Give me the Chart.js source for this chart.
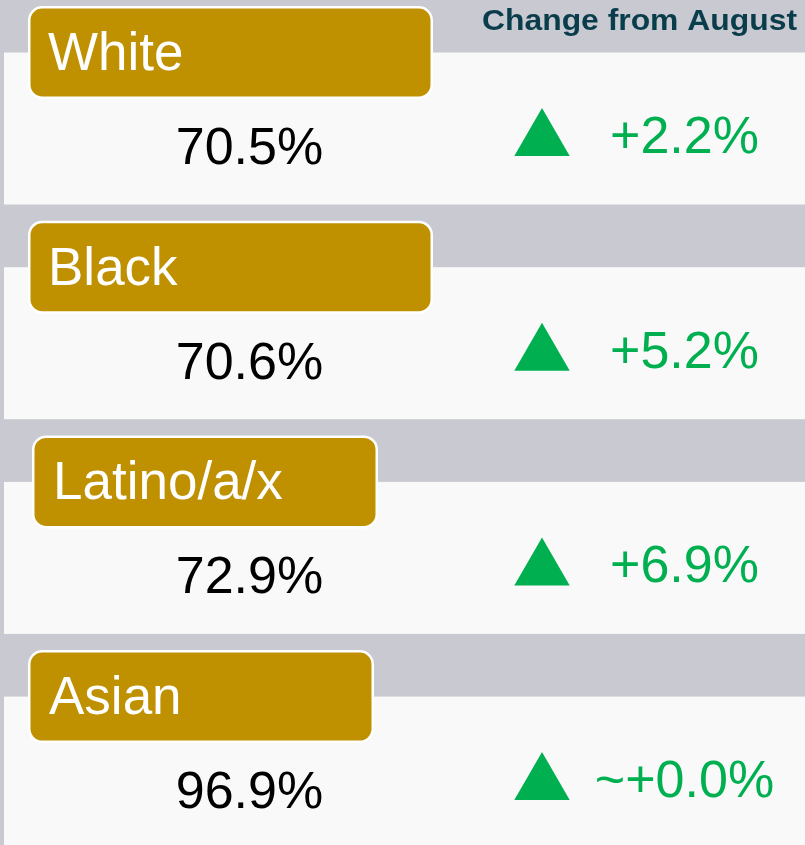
<!DOCTYPE html>
<html>
<head>
<meta charset="utf-8">
<script src="https://cdn.jsdelivr.net/npm/chart.js@4/dist/chart.umd.min.js"></script>
<style>
  html, body { margin: 0; padding: 0; background: #C9C9D1; }
  #wrap { width: 805px; height: 845px; }
</style>
</head>
<body>
<div id="wrap"><canvas id="c" width="805" height="845"></canvas></div>
<script>
// ---- data ----
const categories = ['White', 'Black', 'Latino/a/x', 'Asian'];
const rates = [70.5, 70.6, 72.9, 96.9];
const changes = [2.2, 5.2, 6.9, 0.0];
const changeLabels = ['+2.2%', '+5.2%', '+6.9%', '~+0.0%'];
const headerTitle = 'Change from August';

// ---- layout / style ----
const W = 805, H = 845;
const ROW0 = 6, ROW_STEP = 214.7;
const boxX = [[28, 433], [28, 433], [32, 378], [28, 374]];
const labelX = [48, 48, 53, 49];
const COLORS = {
  bg: '#C9C9D1', panel: '#F9F9F9', gold: '#BF9000', green: '#00B050',
  header: '#0A3D4B', value: '#000000', label: '#FFFFFF'
};
const FONT = '"Liberation Sans", Arial, Helvetica, sans-serif';
const rowTop = i => ROW0 + i * ROW_STEP;

function roundRect(ctx, x, y, w, h, r) {
  ctx.beginPath();
  ctx.moveTo(x + r, y);
  ctx.lineTo(x + w - r, y);
  ctx.arcTo(x + w, y, x + w, y + r, r);
  ctx.lineTo(x + w, y + h - r);
  ctx.arcTo(x + w, y + h, x + w - r, y + h, r);
  ctx.lineTo(x + r, y + h);
  ctx.arcTo(x, y + h, x, y + h - r, r);
  ctx.lineTo(x, y + r);
  ctx.arcTo(x, y, x + r, y, r);
  ctx.closePath();
}

const cardPlugin = {
  id: 'cards',
  beforeDatasetsDraw(chart) {
    const ctx = chart.ctx;
    const xs = chart.scales.x, ys = chart.scales.y;
    const px = v => xs.getPixelForValue(v);
    const py = v => ys.getPixelForValue(v);
    ctx.save();
    // background
    ctx.fillStyle = COLORS.bg;
    ctx.fillRect(0, 0, W, H);
    categories.forEach((cat, i) => {
      const t = rowTop(i);
      // white panel
      ctx.fillStyle = COLORS.panel;
      const pTop = py(t + 46.5);
      const pBot = i === categories.length - 1 ? H + 5 : py(t + 198.5);
      ctx.fillRect(px(4), pTop, px(805) - px(4), pBot - pTop);
      // gold label box
      const [bx0, bx1] = boxX[i];
      const x0 = px(bx0) + 1.25, x1 = px(bx1) - 1.25;
      const y0 = py(t) + 1.25, y1 = py(t + 93) - 1.25;
      roundRect(ctx, x0, y0, x1 - x0, y1 - y0, 13);
      ctx.fillStyle = COLORS.gold;
      ctx.fill();
      ctx.lineWidth = 2.5;
      ctx.strokeStyle = '#FFFFFF';
      ctx.stroke();
      // label text
      ctx.fillStyle = COLORS.label;
      ctx.font = '53px ' + FONT;
      ctx.textAlign = 'left';
      ctx.textBaseline = 'alphabetic';
      ctx.fillText(cat, px(labelX[i]), py(t + 64));
      // value text
      ctx.fillStyle = COLORS.value;
      ctx.font = '52px ' + FONT;
      ctx.textAlign = 'center';
      ctx.fillText(rates[i].toFixed(1) + '%', px(249.5), py(t + 158));
      // change text
      ctx.fillStyle = COLORS.green;
      ctx.fillText(changeLabels[i], px(684.5), py(t + 147));
    });
    // header
    ctx.fillStyle = COLORS.header;
    ctx.font = 'bold 29px ' + FONT;
    ctx.textAlign = 'left';
    const tw = ctx.measureText(headerTitle).width;
    const target = 315;
    ctx.translate(px(482), py(30));
    ctx.scale(target / tw, 1);
    ctx.fillText(headerTitle, 0, 0);
    ctx.restore();
  }
};

new Chart(document.getElementById('c'), {
  type: 'scatter',
  data: {
    datasets: [{
      label: 'Change from August',
      data: changes.map((v, i) => ({ x: 542, y: rowTop(i) + 134 })),
      pointStyle: 'triangle',
      rotation: changes.map(v => v >= 0 ? 0 : 180),
      pointRadius: 32,
      pointHoverRadius: 32,
      backgroundColor: COLORS.green,
      borderColor: COLORS.green,
      borderWidth: 0,
      clip: false
    }]
  },
  options: {
    responsive: false,
    animation: false,
    events: [],
    layout: { padding: 0, autoPadding: false },
    plugins: { legend: { display: false }, tooltip: { enabled: false } },
    scales: {
      x: { type: 'linear', min: 0, max: W, display: false },
      y: { type: 'linear', min: 0, max: H, reverse: true, display: false }
    }
  },
  plugins: [cardPlugin]
});
</script>
</body>
</html>
